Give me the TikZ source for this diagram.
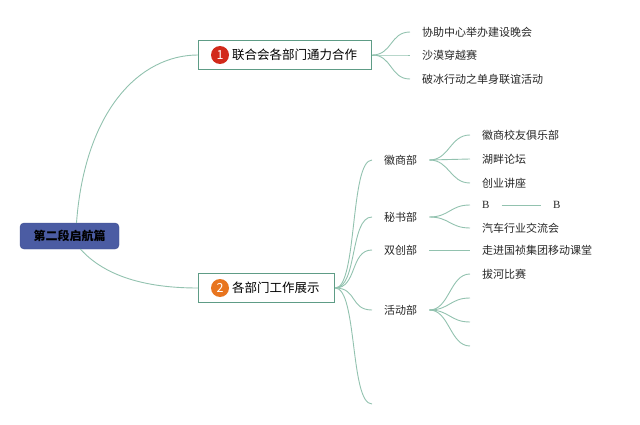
\documentclass[tikz,border=0pt]{standalone}
\usepackage{fontspec}
\setmainfont{Noto Sans CJK SC}
\begin{document}
\begin{tikzpicture}[x=1pt,y=-1pt,
  conn/.style={draw=linkc, line width=0.9pt},
  rootbox/.style={draw=rootb, fill=rootf, rounded corners=4pt, minimum width=99pt, minimum height=26pt, inner sep=0pt, font=\fontsize{12}{14}\selectfont\bfseries},
  topbox/.style={draw=boxb, fill=white, line width=1.3pt, minimum height=29pt, inner sep=0pt, anchor=west, font=\fontsize{12.5}{14}\selectfont},
  numc/.style={circle, inner sep=0pt, minimum size=18pt, text=white, font=\fontsize{12.5}{14}\selectfont},
  leaf/.style={anchor=west, inner sep=0pt, font=\fontsize{11}{13}\selectfont, text=black!85},
  dept/.style={anchor=west, inner sep=0pt, font=\fontsize{11}{13}\selectfont, text=black!85},
  fan/.style={conn}
]
\definecolor{linkc}{HTML}{92C2AF}
\definecolor{boxb}{HTML}{5E9C86}
\definecolor{rootf}{HTML}{4B5CA3}
\definecolor{rootb}{HTML}{3E4E8E}
\definecolor{redc}{HTML}{D2291B}
\definecolor{orc}{HTML}{E8751F}
\useasboundingbox (0,0) rectangle (640,425);

% root
\node[rootbox] (root) at (69.5,236) {第二段启航篇};

% top-level nodes
\node[topbox, minimum width=173pt] (n1) at (198,55) {};
\node[numc, fill=redc] (c1) at (220,55) {1};
\node[anchor=west, inner sep=0pt, font=\fontsize{12.5}{14}\selectfont] (t1) at (232,55) {联合会各部门通力合作};

\node[topbox, minimum width=136pt] (n2) at (198,288) {};
\node[numc, fill=orc] (c2) at (220,288) {2};
\node[anchor=west, inner sep=0pt, font=\fontsize{12.5}{14}\selectfont] (t2) at (232,288) {各部门工作展示};

\draw[conn] ([xshift=7pt]root.north) .. controls (85,110) and (140,55) .. (n1.west);
\draw[conn] ([xshift=11pt]root.south) .. controls (110,282) and (160,288) .. (n2.west);

% children of n1
\node[leaf] (a1) at (422,32) {协助中心举办建设晚会};
\node[leaf] (a2) at (422,55) {沙漠穿越赛};
\node[leaf] (a3) at (422,79) {破冰行动之单身联谊活动};
\foreach \n in {a1,a2,a3}
  \draw[fan] (n1.east) .. controls +(20,0) and +(-20,0) .. ([xshift=-12pt]\n.west);

% departments
\node[dept] (d1) at (384,160) {徽商部};
\node[dept] (d2) at (384,217) {秘书部};
\node[dept] (d3) at (384,250) {双创部};
\node[dept] (d4) at (384,310) {活动部};
\coordinate (d5) at (384,404);
\foreach \n in {d1,d2,d3,d4}
  \draw[fan] (n2.east) .. controls +(22,0) and +(-22,0) .. ([xshift=-12pt]\n.west);
\draw[fan] (n2.east) .. controls +(22,0) and +(-22,0) .. ([xshift=-12pt]d5);

% 徽商部 children
\node[leaf] (h1) at (482,135) {徽商校友俱乐部};
\node[leaf] (h2) at (482,159) {湖畔论坛};
\node[leaf] (h3) at (482,183) {创业讲座};
\foreach \n in {h1,h2,h3}
  \draw[fan] ([xshift=12pt]d1.east) .. controls +(20,0) and +(-20,0) .. ([xshift=-12pt]\n.west);

% 秘书部 children
\node[leaf] (b1) at (482,205) {\fontspec{Liberation Serif}B};
\node[leaf] (b2) at (553,205) {\fontspec{Liberation Serif}B};
\draw[conn] ([xshift=12pt]b1.east) -- ([xshift=-12pt]b2.west);
\node[leaf] (s2) at (482,228) {汽车行业交流会};
\draw[fan] ([xshift=12pt]d2.east) .. controls +(20,0) and +(-20,0) .. ([xshift=-12pt]b1.west);
\draw[fan] ([xshift=12pt]d2.east) .. controls +(20,0) and +(-20,0) .. ([xshift=-12pt]s2.west);

% 双创部 child
\node[leaf] (x1) at (482,250) {走进国祯集团移动课堂};
\draw[fan] ([xshift=12pt]d3.east) -- ([xshift=-12pt]x1.west);

% 活动部 children
\node[leaf] (e1) at (482,274) {拔河比赛};
\coordinate (e2) at (482,298);
\coordinate (e3) at (482,322);
\coordinate (e4) at (482,346);
\draw[fan] ([xshift=12pt]d4.east) .. controls +(20,0) and +(-20,0) .. ([xshift=-12pt]e1.west);
\foreach \n in {e2,e3,e4}
  \draw[fan] ([xshift=12pt]d4.east) .. controls +(20,0) and +(-20,0) .. ([xshift=-12pt]\n);
\end{tikzpicture}
\end{document}
